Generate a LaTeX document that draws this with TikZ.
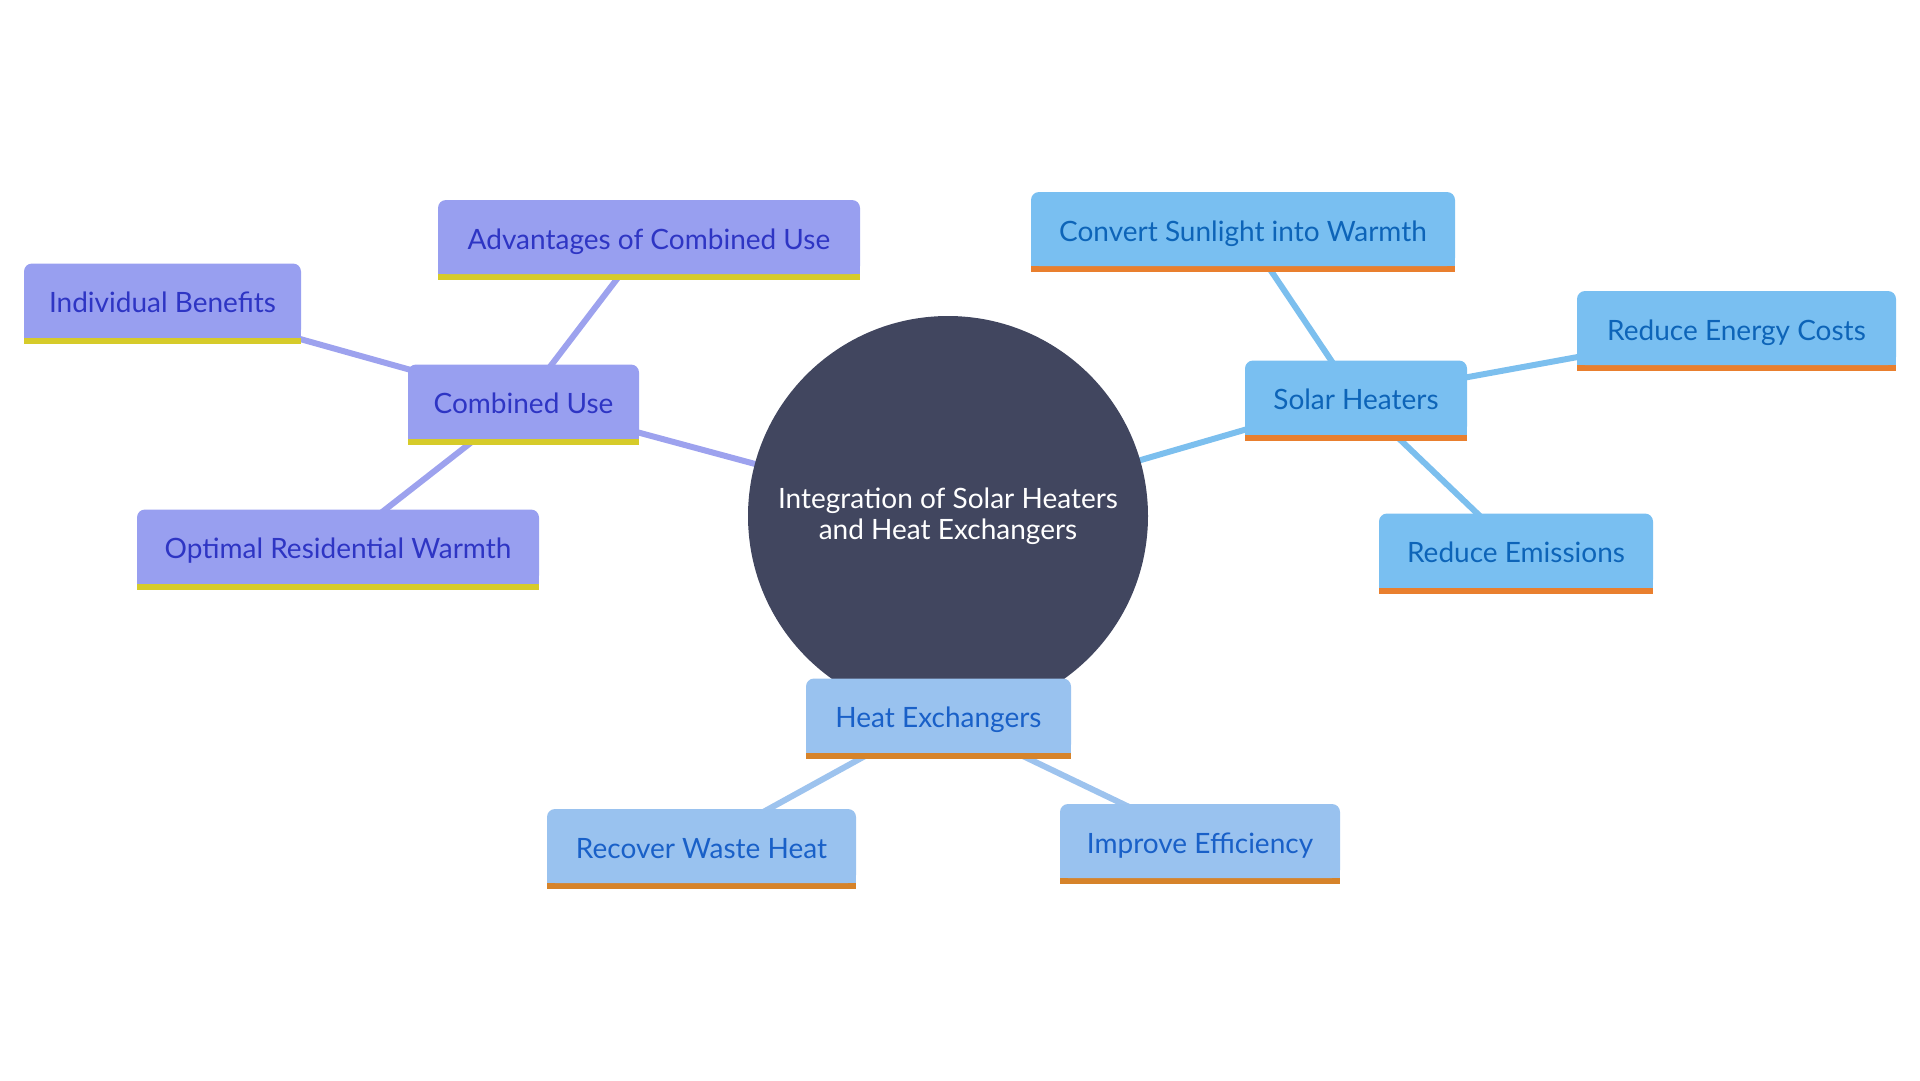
\documentclass[tikz,border=0pt]{standalone}
\usepackage{fontspec}
\setmainfont{Lato}
\usetikzlibrary{backgrounds}
\definecolor{cuFill}{HTML}{989FF0}
\definecolor{cuText}{HTML}{2E35C4}
\definecolor{cuBar}{HTML}{D6CB2A}
\definecolor{cuLine}{HTML}{9DA2EE}
\definecolor{shFill}{HTML}{79BFF1}
\definecolor{shText}{HTML}{0D64B8}
\definecolor{shBar}{HTML}{E97F2E}
\definecolor{shLine}{HTML}{7CBFEE}
\definecolor{heFill}{HTML}{99C2EF}
\definecolor{heText}{HTML}{1960C8}
\definecolor{heBar}{HTML}{D6832A}
\definecolor{heLine}{HTML}{9DC3EE}
\definecolor{hub}{HTML}{41465F}
\tikzset{
  leafbox/.style={rectangle, rounded corners=8pt, minimum height=74pt, inner sep=0pt,
     text height=24pt, text depth=0pt,
     font=\fontsize{28}{31}\selectfont},
  cubox/.style={leafbox, fill=cuFill, text=cuText},
  shbox/.style={leafbox, fill=shFill, text=shText},
  hebox/.style={leafbox, fill=heFill, text=heText},
  link/.style={line width=6pt},
}
\newcommand\finish[3]{%
  \fill[#2] ([yshift=-12pt]#1.west) rectangle (#1.south east);
  \fill[#3] (#1.south west) rectangle ([yshift=-6pt]#1.south east);}
\begin{document}
\begin{tikzpicture}[x=1pt,y=-1pt]
\useasboundingbox (0,0) rectangle (1920,1080);
\node[circle, fill=hub, minimum size=400pt, inner sep=0pt, text=white, align=center,
  font=\fontsize{28}{31}\selectfont] (hub) at (948,516)
  {Integration of Solar Heaters\\and Heat Exchangers};
% Combined use group
\node[cubox, minimum width=231pt] (cu) at (523.5,401.5) {Combined Use};
\node[cubox, minimum width=422pt] (adv) at (649,237) {Advantages of Combined Use};
\node[cubox, minimum width=277pt] (ib) at (162.5,300.5) {Individual Benefits};
\node[cubox, minimum width=402pt] (orw) at (338,546.5) {Optimal Residential Warmth};
% Solar heaters group
\node[shbox, minimum width=222pt] (sh) at (1356,397.5) {Solar Heaters};
\node[shbox, minimum width=424pt] (csw) at (1243,229) {Convert Sunlight into Warmth};
\node[shbox, minimum width=319pt] (rec) at (1736.5,328) {Reduce Energy Costs};
\node[shbox, minimum width=274pt] (re) at (1516,550.5) {Reduce Emissions};
% Heat exchangers group
\node[hebox, minimum width=265pt] (he) at (938.5,715.5) {Heat Exchangers};
\node[hebox, minimum width=309pt] (rwh) at (701.5,846) {Recover Waste Heat};
\node[hebox, minimum width=280pt] (ie) at (1200,841) {Improve Efficiency};
\begin{scope}[on background layer]
  \draw[link, cuLine] (hub.center) -- (cu.center);
  \draw[link, cuLine] (cu.center) -- (adv.center);
  \draw[link, cuLine] (cu.center) -- (ib.center);
  \draw[link, cuLine] (cu.center) -- (orw.center);
  \draw[link, shLine] (hub.center) -- (sh.center);
  \draw[link, shLine] (sh.center) -- (csw.center);
  \draw[link, shLine] (sh.center) -- (rec.center);
  \draw[link, shLine] (sh.center) -- (re.center);
  \draw[link, heLine] (hub.center) -- (he.center);
  \draw[link, heLine] (he.center) -- (rwh.center);
  \draw[link, heLine] (he.center) -- (ie.center);
  \finish{cu}{cuFill}{cuBar}
  \finish{adv}{cuFill}{cuBar}
  \finish{ib}{cuFill}{cuBar}
  \finish{orw}{cuFill}{cuBar}
  \finish{sh}{shFill}{shBar}
  \finish{csw}{shFill}{shBar}
  \finish{rec}{shFill}{shBar}
  \finish{re}{shFill}{shBar}
  \finish{he}{heFill}{heBar}
  \finish{rwh}{heFill}{heBar}
  \finish{ie}{heFill}{heBar}
\end{scope}
\end{tikzpicture}
\end{document}
